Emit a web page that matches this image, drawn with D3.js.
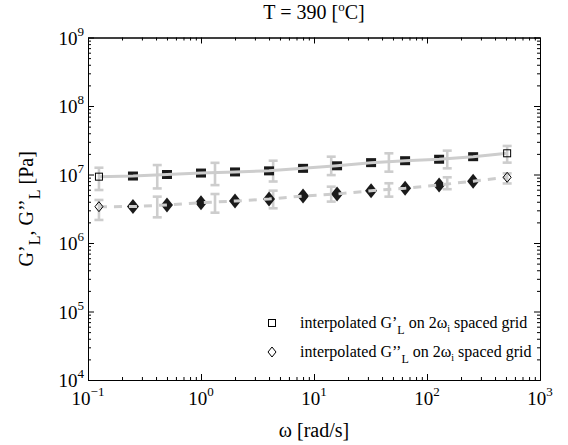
<!DOCTYPE html>
<html><head><meta charset="utf-8">
<script src="https://cdn.jsdelivr.net/npm/d3@7"></script>
<style>
body{margin:0;background:#fff;}
</style></head>
<body><svg id="chart" width="568" height="445"></svg>
<script>
// ---- data ----
const omega = [0.125, 0.25, 0.5, 1, 2, 4, 8, 16, 32, 64, 128, 256, 512];
const gPrime = [9.3e6, 9.5e6, 1.0e7, 1.05e7, 1.09e7, 1.13e7, 1.23e7, 1.34e7, 1.49e7, 1.59e7, 1.67e7, 1.82e7, 2.04e7];
const gDouble = [3.39e6, 3.4e6, 3.59e6, 3.87e6, 4.1e6, 4.38e6, 4.85e6, 5.19e6, 5.8e6, 6.3e6, 7.03e6, 8.0e6, 9.1e6];
const omegaErr = [0.125, 0.41, 1.33, 4.35, 14.2, 46, 151, 512];
const gPrimeErrMid = [9.25e6, 1.0e7, 1.09e7, 1.19e7, 1.40e7, 1.57e7, 1.73e7, 2.05e7];
const gPrimeErr = [3.31e6, 3.74e6, 3.9e6, 4.0e6, 4.2e6, 4.7e6, 5.0e6, 5.6e6];
const gDoubleErrMid = [3.21e6, 3.56e6, 3.98e6, 4.51e6, 5.33e6, 6.1e6, 7.6e6, 8.9e6];
const gDoubleErr = [1.04e6, 1.19e6, 1.21e6, 1.3e6, 1.31e6, 1.35e6, 1.5e6, 1.5e6];
const xTickExps = [-1, 0, 1, 2, 3];
const yTickExps = [4, 5, 6, 7, 8, 9];
const legendLabels = [
  ["interpolated G’", "L", " on 2ω", "i", " spaced grid"],
  ["interpolated G’’", "L", " on 2ω", "i", " spaced grid"]
];

// ---- layout ----
const FONT = "Liberation Serif";
const L = 88, R = 540, T = 37.5, B = 380;
const svg = d3.select("#chart");
const x = d3.scaleLog().domain([0.1, 1000]).range([L, R]);
const y = d3.scaleLog().domain([1e4, 1e9]).range([B, T]);

const grey = "#cdcdcd";

const xMajor = xTickExps.map(e => Math.pow(10, e));
const yMajor = yTickExps.map(e => Math.pow(10, e));
const xMinor = x.ticks().filter(v => !xMajor.some(m => Math.abs(m - v) / v < 1e-9));
const yMinor = y.ticks().filter(v => !yMajor.some(m => Math.abs(m - v) / v < 1e-9));

function addAxis(gen, tx, ty) {
  const g = svg.append("g").attr("transform", `translate(${tx},${ty})`).call(gen);
  g.selectAll("text").remove();
  g.select(".domain").attr("stroke", "#000").attr("stroke-width", 1);
  g.selectAll(".tick line").attr("stroke", "#000").attr("stroke-width", 1);
  return g;
}
addAxis(d3.axisBottom(x).tickValues(xMajor).tickSize(-6).tickSizeOuter(0), 0, B);
addAxis(d3.axisTop(x).tickValues(xMajor).tickSize(-6).tickSizeOuter(0), 0, T);
addAxis(d3.axisLeft(y).tickValues(yMajor).tickSize(-6).tickSizeOuter(0), L, 0);
addAxis(d3.axisRight(y).tickValues(yMajor).tickSize(-6).tickSizeOuter(0), R, 0);
addAxis(d3.axisBottom(x).tickValues(xMinor).tickSize(-3).tickSizeOuter(0), 0, B);
addAxis(d3.axisTop(x).tickValues(xMinor).tickSize(-3).tickSizeOuter(0), 0, T);
addAxis(d3.axisLeft(y).tickValues(yMinor).tickSize(-3).tickSizeOuter(0), L, 0);
addAxis(d3.axisRight(y).tickValues(yMinor).tickSize(-3).tickSizeOuter(0), R, 0);

function txt() { return svg.append("text").attr("font-family", FONT).attr("fill", "#000"); }

xTickExps.forEach((e, i) => {
  const t = txt().attr("x", x(xMajor[i])).attr("y", B + 25)
    .attr("text-anchor", "middle").attr("font-size", 19);
  t.append("tspan").text("10");
  t.append("tspan").attr("dy", -9).attr("font-size", 13).text(e < 0 ? "−" + (-e) : String(e));
});
yTickExps.forEach((e, i) => {
  const t = txt().attr("x", L - 4).attr("y", y(yMajor[i]) + 7)
    .attr("text-anchor", "end").attr("font-size", 19);
  t.append("tspan").text("10");
  t.append("tspan").attr("dy", -9).attr("font-size", 13).text(String(e));
});

const title = txt().attr("x", (L + R) / 2).attr("y", 19)
  .attr("text-anchor", "middle").attr("font-size", 20);
title.append("tspan").text("T = 390 [");
title.append("tspan").attr("dy", -8).attr("font-size", 13).text("o");
title.append("tspan").attr("dy", 8).text("C]");

txt().attr("x", (L + R) / 2).attr("y", 437)
  .attr("text-anchor", "middle").attr("font-size", 20).text("ω [rad/s]");

const yl = txt().attr("transform", `translate(33,${(T + B) / 2}) rotate(-90)`)
  .attr("text-anchor", "middle").attr("font-size", 20);
yl.append("tspan").text("G’");
yl.append("tspan").attr("dy", 7).attr("font-size", 16).text("L");
yl.append("tspan").attr("dy", -7).text(", G’’");
yl.append("tspan").attr("dy", 7).attr("font-size", 16).text("L");
yl.append("tspan").attr("dy", -7).text(" [Pa]");

function errorBars(mid, err) {
  const g = svg.append("g").attr("stroke", grey).attr("stroke-width", 2.6).attr("fill", "none");
  omegaErr.forEach((w, i) => {
    const cx = x(w), y1 = y(mid[i] + err[i]), y2 = y(mid[i] - err[i]);
    g.append("line").attr("x1", cx).attr("x2", cx).attr("y1", y1).attr("y2", y2);
    g.append("line").attr("x1", cx - 4.5).attr("x2", cx + 4.5).attr("y1", y1).attr("y2", y1);
    g.append("line").attr("x1", cx - 4.5).attr("x2", cx + 4.5).attr("y1", y2).attr("y2", y2);
  });
}
errorBars(gPrimeErrMid, gPrimeErr);
errorBars(gDoubleErrMid, gDoubleErr);

const inner = d3.range(1, omega.length - 1);
svg.append("g").selectAll("rect").data(inner).join("rect")
  .attr("x", i => x(omega[i]) - 5).attr("y", i => y(gPrime[i]) - 4.5)
  .attr("width", 10).attr("height", 9).attr("fill", "#1a1a1a");
svg.append("g").selectAll("path").data(inner).join("path")
  .attr("transform", i => `translate(${x(omega[i])},${y(gDouble[i])})`)
  .attr("d", "M0,-7.5L6,0L0,7.5L-6,0Z").attr("fill", "#1a1a1a");

const lineP = d3.line().x((d, i) => x(omega[i])).y(d => y(d));
svg.append("path").datum(gPrime).attr("d", lineP).attr("fill", "none")
  .attr("stroke", grey).attr("stroke-width", 3);
svg.append("path").datum(gDouble).attr("d", lineP).attr("fill", "none")
  .attr("stroke", grey).attr("stroke-width", 3).attr("stroke-dasharray", "8,7");

const ends = [0, omega.length - 1];
svg.append("g").selectAll("rect").data(ends).join("rect")
  .attr("x", i => x(omega[i]) - 3.5).attr("y", i => y(gPrime[i]) - 3.5)
  .attr("width", 7).attr("height", 7).attr("fill", "none").attr("stroke", "#000").attr("stroke-width", 1);
svg.append("g").selectAll("path").data(ends).join("path")
  .attr("transform", i => `translate(${x(omega[i])},${y(gDouble[i])})`)
  .attr("d", "M0,-5L4,0L0,5L-4,0Z").attr("fill", "none").attr("stroke", "#000").attr("stroke-width", 1);

const legY = [323, 352];
svg.append("rect").attr("x", 272 - 3.5).attr("y", legY[0] - 3.5).attr("width", 7).attr("height", 7)
  .attr("fill", "none").attr("stroke", "#000").attr("stroke-width", 1);
svg.append("path").attr("transform", `translate(272,${legY[1]})`)
  .attr("d", "M0,-5L4,0L0,5L-4,0Z").attr("fill", "none").attr("stroke", "#000").attr("stroke-width", 1);
legendLabels.forEach((parts, k) => {
  const t = txt().attr("x", 300).attr("y", legY[k] + 5).attr("font-size", 16);
  t.append("tspan").text(parts[0]);
  t.append("tspan").attr("dy", 6).attr("font-size", 12).text(parts[1]);
  t.append("tspan").attr("dy", -6).text(parts[2]);
  t.append("tspan").attr("dy", 4).attr("font-size", 10).text(parts[3]);
  t.append("tspan").attr("dy", -4).text(parts[4]);
});
</script></body></html>
